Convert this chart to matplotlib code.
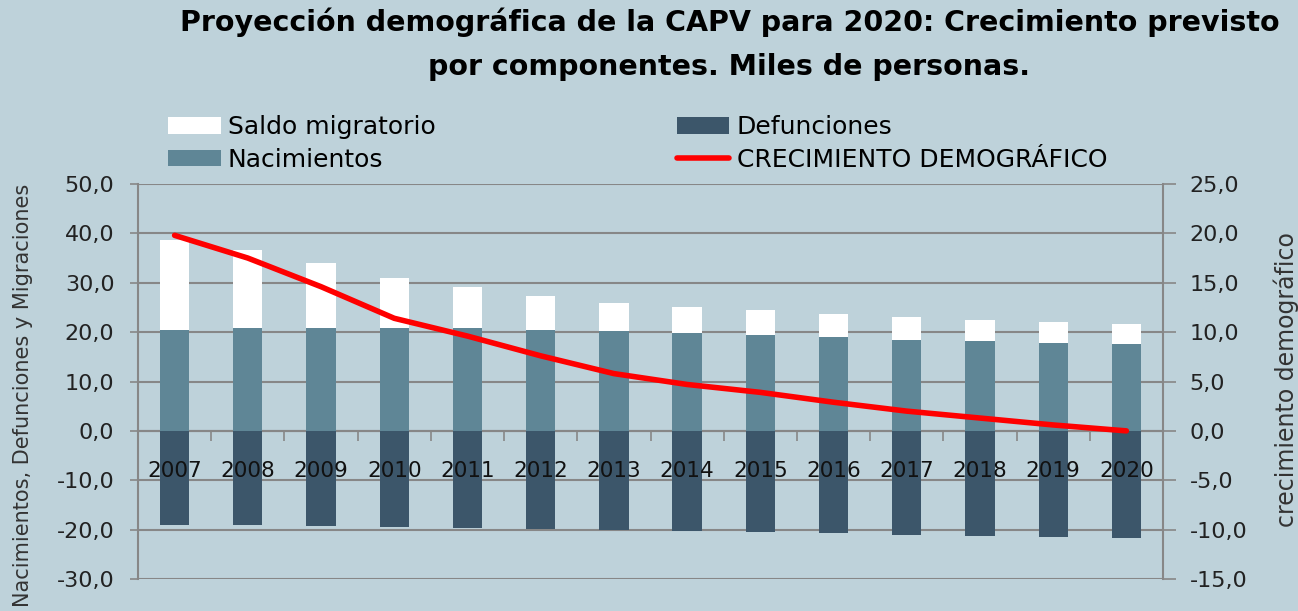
import matplotlib
matplotlib.use('Agg')
import matplotlib.pyplot as plt
import numpy as np

# data (miles de personas)
years = ['2007', '2008', '2009', '2010', '2011', '2012', '2013',
         '2014', '2015', '2016', '2017', '2018', '2019', '2020']
nacimientos = [20.5, 20.8, 20.9, 20.9, 20.8, 20.5, 20.2,
               19.8, 19.4, 19.0, 18.5, 18.2, 17.8, 17.5]
saldo_migratorio = [18.2, 15.8, 13.0, 10.0, 8.4, 6.9, 5.7,
                    5.2, 5.0, 4.6, 4.5, 4.3, 4.2, 4.1]
defunciones = [-19.0, -19.1, -19.3, -19.5, -19.6, -19.8, -20.1,
               -20.3, -20.5, -20.7, -21.0, -21.2, -21.4, -21.6]
crecimiento = [19.8, 17.5, 14.6, 11.4, 9.6, 7.6, 5.8,
               4.7, 3.9, 2.9, 2.0, 1.3, 0.6, 0.0]

bg = '#bed2da'
c_nac = '#5f8696'
c_def = '#3c566a'
c_grid = '#878787'

def fmt(v):
    return '{:.1f}'.format(v).replace('.', ',')

f = plt.figure(figsize=(12.98, 6.11), dpi=100)
f.patch.set_facecolor(bg)
ax = f.add_axes([138/1298, 32/611, (1163-138)/1298, (579-184)/611])
ax.set_facecolor(bg)

x = np.arange(len(years))
w = 0.4
ax.bar(x, nacimientos, w, color=c_nac, label='Nacimientos', zorder=3)
ax.bar(x, saldo_migratorio, w, bottom=nacimientos, color='white',
       label='Saldo migratorio', zorder=3)
ax.bar(x, defunciones, w, color=c_def, label='Defunciones', zorder=3)

ax.set_xlim(-0.5, len(years) - 0.5)
ax.set_ylim(-30, 50)
yt = np.arange(-30, 51, 10)
ax.set_yticks(yt)
ax.set_yticklabels([fmt(v) for v in yt], fontsize=16, color='#222222')
ax.yaxis.grid(True, color=c_grid, lw=1.5, zorder=0)
ax.set_axisbelow(True)
ax.tick_params(axis='y', direction='out', length=6, width=1.2,
               color=c_grid, pad=11)

ax.spines['bottom'].set_position(('data', 0))
ax.spines['top'].set_visible(False)
ax.spines['right'].set_visible(False)
for s in ['bottom', 'left']:
    ax.spines[s].set_color(c_grid)
    ax.spines[s].set_linewidth(1.5)
# year labels sit over the bars, so they are texts above the bar zorder
ax.set_xticks(x)
ax.set_xticklabels([])
ax.set_xticks(np.arange(len(years) + 1) - 0.5, minor=True)
ax.tick_params(axis='x', which='major', length=0)
ax.tick_params(axis='x', which='minor', direction='out', length=7,
               width=1.2, color=c_grid)
for i, yr in enumerate(years):
    ax.text(i, -8.1, yr, ha='center', va='center', fontsize=15.5,
            color='#111111', zorder=6)

ax.set_ylabel('Nacimientos, Defunciones y Migraciones', fontsize=15,
              color='#333333', va='center')
ax.yaxis.set_label_coords(-0.1125, 0.466)

ax2 = ax.twinx()
ax2.plot(x, crecimiento, color='#ff0000', lw=4, solid_capstyle='round',
         label='CRECIMIENTO DEMOGRÁFICO', zorder=5)
ax2.set_ylim(-15, 25)
yt2 = np.arange(-15, 26, 5)
ax2.set_yticks(yt2)
ax2.set_yticklabels([fmt(v) for v in yt2], fontsize=16, color='#222222')
ax2.tick_params(axis='y', direction='out', length=9, width=1.2,
                color=c_grid, pad=10)
for s in ['top', 'bottom', 'left']:
    ax2.spines[s].set_visible(False)
ax2.spines['right'].set_color(c_grid)
ax2.spines['right'].set_linewidth(1.5)
ax2.set_ylabel('crecimiento demográfico', fontsize=17, color='#333333',
               va='center', rotation=90)
ax2.yaxis.set_label_coords(1.12, 0.504)

f.suptitle('Proyección demográfica de la CAPV para 2020: Crecimiento previsto\n'
           'por componentes. Miles de personas.',
           x=0.562, y=0.988, fontsize=20.5, fontweight='bold',
           linespacing=1.72)

# legend: two columns placed by hand
h, l = ax.get_legend_handles_labels()
h2, l2 = ax2.get_legend_handles_labels()
lk = dict(frameon=False, loc='upper left', borderpad=0,
          borderaxespad=0, handlelength=2.1, handleheight=0.65,
          handletextpad=0.3, labelspacing=0.35, fontsize=18)
leg1 = f.legend([h[1], h[0]], [l[1], l[0]],
                bbox_to_anchor=(168/1298, 1 - 115/611), **lk)
leg2 = f.legend([h[2], h2[0]], [l[2], l2[0]],
                bbox_to_anchor=(677/1298, 1 - 115/611), **lk)

plt.savefig('out.png', dpi=100, facecolor=bg)
